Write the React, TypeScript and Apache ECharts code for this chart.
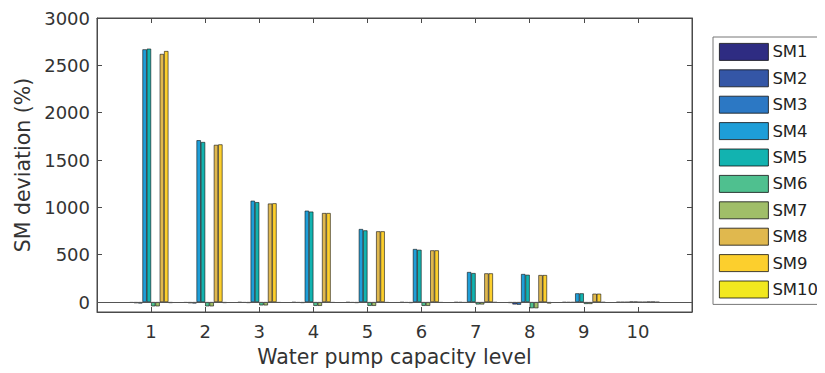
import React, { useEffect, useRef } from "react";
import * as echarts from "echarts";

const categories = ["0", "1", "2", "3", "4", "5", "6", "7", "8", "9", "10", "11"];
const seriesNames = ["SM1", "SM2", "SM3", "SM4", "SM5", "SM6", "SM7", "SM8", "SM9", "SM10"];
const colors = ["#2e2c82", "#3456a6", "#2c78c4", "#1e9ed8", "#12b3b0", "#4fc08f", "#a0be68", "#e0b84e", "#fccf2d", "#f2e81f"];

const SM1 = [-8, -8, -5, -5, -5, -5, -5, -10, -5, -3];
const SM2 = [-12, -12, -8, -8, -8, -8, -6, -25, -6, -3];
const SM3 = [-15, -15, -10, -10, -10, -10, -8, -28, -6, -3];
const SM4 = [2669, 1709, 1070, 965, 771, 560, 317, 296, 92, 3];
const SM5 = [2676, 1690, 1055, 955, 757, 552, 306, 288, 92, 2];
const SM6 = [-45, -45, -35, -40, -40, -40, -25, -65, -20, -2];
const SM7 = [-45, -45, -35, -40, -40, -40, -25, -65, -20, -2];
const SM8 = [2620, 1660, 1040, 940, 747, 546, 303, 285, 88, 2];
const SM9 = [2651, 1665, 1043, 940, 747, 546, 303, 285, 88, 2];
const SM10 = [-10, -10, -8, -8, -8, -8, -6, -15, -5, -2];
const allValues = [SM1, SM2, SM3, SM4, SM5, SM6, SM7, SM8, SM9, SM10];

const FONT = "DejaVu Sans";
const AXIS_COLOR = "#4a4a4a";
const TEXT_COLOR = "#333333";

export default function App() {
  const ref = useRef<HTMLDivElement>(null);
  useEffect(() => {
    if (!ref.current) return;
    const chart = echarts.init(ref.current, null, { renderer: "svg" });
    const series: any[] = allValues.map((vals, i) => ({
      name: seriesNames[i],
      type: "bar",
      data: [null, ...vals, null],
      barGap: "0%",
      barCategoryGap: "20%",
      itemStyle: { color: colors[i], borderColor: "#111", borderWidth: 0.6 },
      ...(i === 0
        ? {
            markLine: {
              silent: true,
              symbol: "none",
              label: { show: false },
              lineStyle: { color: "#555", width: 1, type: "solid" },
              data: [{ yAxis: 0 }],
            },
          }
        : {}),
    }));
    const xCommon = {
      type: "category",
      data: categories,
      boundaryGap: false,
      axisLine: { onZero: false, lineStyle: { color: AXIS_COLOR, width: 1 } },
      axisTick: {
        inside: true,
        length: 5,
        lineStyle: { color: AXIS_COLOR },
        interval: (idx: number) => idx >= 1 && idx <= 10,
      },
      splitLine: { show: false },
    };
    const yCommon = {
      type: "value",
      min: -105,
      max: 3000,
      splitNumber: 6,
      axisLine: { show: true, onZero: false, lineStyle: { color: AXIS_COLOR, width: 1 } },
      axisTick: { show: true, inside: true, length: 5, lineStyle: { color: AXIS_COLOR } },
      splitLine: { show: false },
    };
    chart.setOption({
      animation: false,
      textStyle: { fontFamily: FONT },
      grid: {
        left: 97,
        right: 133,
        top: 18,
        bottom: 61,
        containLabel: false,
        show: true,
        borderColor: AXIS_COLOR,
        borderWidth: 1,
        backgroundColor: "transparent",
      },
      legend: {
        orient: "vertical",
        left: 713,
        top: 37,
        padding: [6, 8, 6, 6],
        itemWidth: 49,
        itemHeight: 17,
        itemGap: 8.6,
        borderColor: "#777",
        borderWidth: 1,
        data: seriesNames,
        icon: "rect",
        itemStyle: { borderColor: "#111", borderWidth: 0.8 },
        textStyle: { fontFamily: FONT, fontSize: 16.5, color: "#222", padding: [0, 0, 0, -1] },
      },
      xAxis: [
        {
          ...xCommon,
          position: "bottom",
          name: "Water pump capacity level",
          nameLocation: "middle",
          nameGap: 34,
          nameTextStyle: { fontFamily: FONT, fontSize: 20.5, color: TEXT_COLOR },
          axisLabel: {
            fontFamily: FONT,
            fontSize: 18,
            color: TEXT_COLOR,
            margin: 10,
            interval: 0,
            formatter: (v: string) => (v === "0" || v === "11" ? "" : v),
          },
        },
        {
          ...xCommon,
          position: "top",
          axisLabel: { show: false },
        },
      ],
      yAxis: [
        {
          ...yCommon,
          position: "left",
          name: "SM deviation (%)",
          nameLocation: "middle",
          nameGap: 54,
          nameTextStyle: { fontFamily: FONT, fontSize: 20.5, color: TEXT_COLOR },
          axisLabel: {
            fontFamily: FONT,
            fontSize: 18,
            color: TEXT_COLOR,
            margin: 7,
            showMinLabel: false,
            formatter: (v: number) => (v % 500 === 0 ? String(v) : ""),
          },
        },
        {
          ...yCommon,
          position: "right",
          axisLabel: { show: false },
        },
      ],
      series,
    });
    return () => chart.dispose();
  }, []);
  return <div ref={ref} style={{ width: 825, height: 373, marginLeft: -8, marginTop: -8 }} />;
}
